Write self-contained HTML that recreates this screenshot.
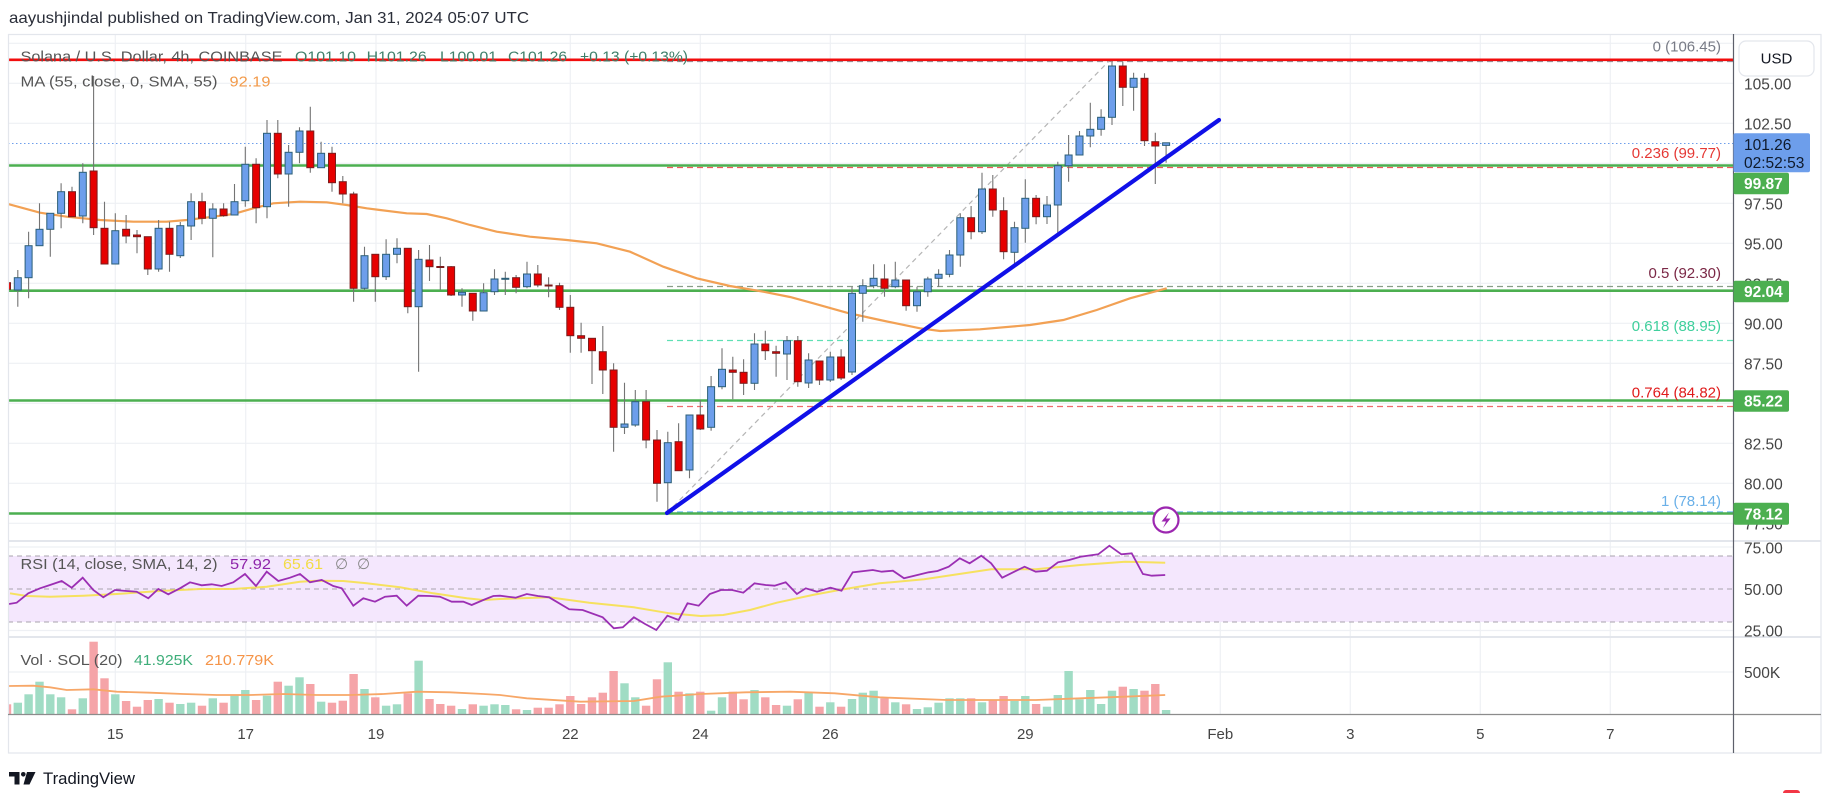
<!DOCTYPE html>
<html><head><meta charset="utf-8"><title>SOLUSD 4h chart</title>
<style>html,body{margin:0;padding:0;background:#fff;}svg{display:block;}text{font-family:"Liberation Sans",sans-serif;}</style>
</head><body>
<svg width="1833" height="793" viewBox="0 0 1833 793" xmlns="http://www.w3.org/2000/svg">
<defs>
<clipPath id="cp"><rect x="8.5" y="34.5" width="1724.5" height="506"/></clipPath>
<clipPath id="cv"><rect x="8.5" y="637" width="1724.5" height="77"/></clipPath>
</defs>
<rect width="1833" height="793" fill="#fff"/>
<text x="9" y="23" font-size="16" fill="#2a2e39" textLength="520" lengthAdjust="spacingAndGlyphs">aayushjindal published on TradingView.com, Jan 31, 2024 05:07 UTC</text>

<!-- gridlines -->
<g stroke="#eef0f4" stroke-width="1.2">
<path d="M115.3 34V714M245.7 34V714M376 34V714M570.3 34V714M700.3 34V714M830.3 34V714M1025.3 34V714M1220.3 34V714M1350.3 34V714M1480.3 34V714M1610.3 34V714"/>
<path d="M8 43.3H1733M8 83.3H1733M8 123.3H1733M8 163.3H1733M8 203.3H1733M8 243.3H1733M8 283.3H1733M8 323.3H1733M8 363.3H1733M8 403.3H1733M8 443.3H1733M8 483.3H1733M8 523.3H1733M8 547H1733M8 630.5H1733M8 672H1733"/>
</g>

<!-- RSI band -->
<rect x="8.5" y="556" width="1724.5" height="66" fill="#f4e7fd"/>
<g stroke="#a8a3ad" stroke-width="1" stroke-dasharray="5 4">
<path d="M8 556H1733M8 589H1733M8 622H1733"/>
</g>

<g clip-path="url(#cp)">
<!-- fib lines -->
<g stroke-width="1.2" stroke-dasharray="6 4" fill="none">
<path d="M667 61.5H1733" stroke="#9598a1"/>
<path d="M667 167.5H1733" stroke="#f05a5a"/>
<path d="M667 286.5H1733" stroke="#8a9e8a"/>
<path d="M667 340.5H1733" stroke="#5fe0b4"/>
<path d="M667 406.5H1733" stroke="#f26b6b"/>
<path d="M667 512H1733" stroke="#64b5f6"/>
<path d="M667 513L1110 60" stroke="#b5b5b5" stroke-dasharray="5 4"/>
</g>
<!-- horizontal lines -->
<path d="M8 59.8H1733" stroke="#f20d0d" stroke-width="2.6"/>
<g stroke="#4caf50" stroke-width="2.6">
<path d="M8 165.5H1733M8 290.7H1733M8 400.5H1733M8 513.5H1733"/>
</g>
<path d="M8 143.5H1733" stroke="#6d9eeb" stroke-width="1" stroke-dasharray="1.5 2.5"/>
<!-- MA -->
<polyline fill="none" stroke="#f2a154" stroke-width="2.2" points="8,204 40,212.7 66.7,216.7 100,220 133.3,221.7 166.7,221.7 186.7,220 213.3,216.7 233.3,214 253.3,208.3 273.3,203.3 300,201.7 326.7,202.3 346.7,205 366.7,208.3 380,210 406.7,213.3 426.7,214 446.7,218.3 470,225 496.7,231.7 530,236.7 566.7,240 596.7,243.3 630,251.7 663.3,266.7 696.7,278.3 730,286 763.3,291.7 790,297 813.3,303.3 846.7,312.7 880,320 920,328.3 940,331 980,329.3 1030,325 1063.3,320 1096.7,310 1130,298.3 1166.7,288.3"/>
<!-- wicks -->
<path stroke="#747474" stroke-width="1.1" fill="none" d="M7 278V292M17.8 270V306.7M28.6 231.7V298.3M39.5 203.3V245.7M50.3 213.3V256.7M61.1 183.3V228.3M72 186.7V216.7M82.8 163.3V223.3M93.6 76V235M104.5 201.7V264M115.3 213.3V264M126.1 215V243.3M137 230V253.3M147.8 236.7V275M158.6 220V271.7M169.5 221.7V271.7M180.3 222V258M191.1 193.3V240M202 192.7V224.3M212.8 203.3V257.3M223.6 203.3V216.7M234.5 184V215M245.3 146.7V206.7M256.1 158.3V223.3M267 120V218.3M277.8 120V178.3M288.6 145V206.7M299.5 127.3V163.3M310.3 106.7V172.7M321.1 141.7V167.7M332 146.7V191.7M342.8 176V203.3M353.6 191.7V301.7M364.5 246.7V290M375.3 254.3V301.7M386.1 239.3V280M397 238.3V263.3M407.8 248.3V313.3M418.6 250V371.7M429.5 245V281M440.3 256.7V290M451.1 266V296M462 288.3V306.7M472.8 293.3V320.7M483.6 283.3V311M494.5 269.3V295M505.3 271.7V295M516.1 275V293.3M527 261.7V288.3M537.8 265V287.3M548.6 277.3V297.3M559.5 282.7V310M570.3 295V352.7M581.1 322.7V352.7M592 338.3V384M602.8 326V394M613.6 363.3V451.7M624.5 382.7V434M635.3 390V426.7M646.1 390V448.3M657 430V501.7M667.8 431.7V513.3M678.6 423.3V470.7M689.5 415V478.3M700.3 400V430M711.1 376V430.7M722 348.3V389.3M732.8 356.7V399.3M743.6 359.3V395M754.5 333.3V390M765.3 330.7V360M776.1 345.7V376.7M787 336V380M797.8 336V386.7M808.6 353.3V388M819.5 361V385M830.3 351.7V382M841.1 349.3V380M852 286.7V375M862.8 279.3V321.7M873.6 264.3V288.3M884.5 264.3V296.7M895.3 261.7V288.3M906.1 280V310.7M917 286.7V311.7M927.8 276.7V296.7M938.6 269.3V286.7M949.5 250V277.3M960.3 213.3V266.7M971.1 206V239.3M982 172.7V234M992.8 175V216.7M1003.6 197.3V259.3M1014.5 221.7V266.7M1025.3 179.3V242.7M1036.1 195V224.3M1047 196V224M1057.8 161.7V234M1068.6 135V181.7M1079.5 131V155M1090.3 102.7V147.3M1101.1 109.3V135.7M1112 61.7V125M1122.8 61.7V106M1133.6 72.7V110.7M1144.5 73.3V146M1155.3 132.7V184M1166.1 142.8V162.8"/>
<!-- blue bodies -->
<g fill="#6d9eeb" stroke="#2c5f78" stroke-width="1">
<rect x="14.3" y="277.7" width="7" height="12.3"/><rect x="25.1" y="245.7" width="7" height="32"/><rect x="36" y="229.3" width="7" height="16.4"/><rect x="46.8" y="213.3" width="7" height="16"/><rect x="57.6" y="191.7" width="7" height="21.6"/><rect x="79.3" y="172.3" width="7" height="43.7"/><rect x="111.8" y="230.7" width="7" height="33.3"/><rect x="155.1" y="228.3" width="7" height="40.7"/><rect x="176.8" y="225.7" width="7" height="30"/><rect x="187.6" y="201.7" width="7" height="24.3"/><rect x="209.3" y="209" width="7" height="9.3"/><rect x="231" y="201.7" width="7" height="13.3"/><rect x="241.8" y="164.3" width="7" height="36.4"/><rect x="263.5" y="133.3" width="7" height="73.4"/><rect x="285.1" y="152.3" width="7" height="21.7"/><rect x="296" y="131" width="7" height="21.3"/><rect x="317.6" y="153.3" width="7" height="14.4"/><rect x="361" y="255.7" width="7" height="32.6"/><rect x="382.6" y="254.3" width="7" height="22.4"/><rect x="393.5" y="248.3" width="7" height="6"/><rect x="415.1" y="259.3" width="7" height="47.4"/><rect x="458.5" y="292.3" width="7" height="2.7"/><rect x="480.1" y="292.7" width="7" height="18.3"/><rect x="491" y="279" width="7" height="12.7"/><rect x="501.8" y="278.3" width="7" height="1"/><rect x="523.5" y="274" width="7" height="12.7"/><rect x="621" y="424" width="7" height="3.3"/><rect x="631.8" y="401.7" width="7" height="23.3"/><rect x="664.3" y="442.7" width="7" height="40"/><rect x="686" y="415" width="7" height="55"/><rect x="707.6" y="386.7" width="7" height="40.6"/><rect x="718.5" y="369.3" width="7" height="17.4"/><rect x="751" y="344" width="7" height="39.3"/><rect x="783.5" y="340.7" width="7" height="13.3"/><rect x="805.1" y="360" width="7" height="23"/><rect x="826.8" y="357" width="7" height="23"/><rect x="848.5" y="293.3" width="7" height="78.7"/><rect x="859.3" y="285.7" width="7" height="7.6"/><rect x="870.1" y="278.3" width="7" height="7.4"/><rect x="891.8" y="280" width="7" height="6.7"/><rect x="913.5" y="291.7" width="7" height="14"/><rect x="924.3" y="279" width="7" height="12.7"/><rect x="935.1" y="274.3" width="7" height="4"/><rect x="946" y="255" width="7" height="19.3"/><rect x="956.8" y="217.7" width="7" height="37.3"/><rect x="978.5" y="189" width="7" height="42.7"/><rect x="1011" y="227.7" width="7" height="24.6"/><rect x="1021.8" y="198.3" width="7" height="30"/><rect x="1043.5" y="205" width="7" height="11.7"/><rect x="1054.3" y="165.7" width="7" height="39.3"/><rect x="1065.1" y="155" width="7" height="10.7"/><rect x="1076" y="136" width="7" height="19"/><rect x="1086.8" y="129.3" width="7" height="6.7"/><rect x="1097.6" y="117.3" width="7" height="12"/><rect x="1108.5" y="66" width="7" height="51.3"/><rect x="1130.1" y="78.3" width="7" height="9"/><rect x="1162.6" y="142.8" width="7" height="2.6"/>
</g>
<!-- red bodies -->
<g fill="#e60000" stroke="#7a1c1c" stroke-width="1">
<rect x="3.5" y="282.7" width="7" height="6.6"/><rect x="68.5" y="191.7" width="7" height="25"/><rect x="90.1" y="171" width="7" height="56.7"/><rect x="101" y="228.3" width="7" height="35.7"/><rect x="122.6" y="229.3" width="7" height="6.7"/><rect x="133.5" y="235" width="7" height="1.7"/><rect x="144.3" y="236.7" width="7" height="32.3"/><rect x="166" y="228.3" width="7" height="26"/><rect x="198.5" y="201.7" width="7" height="16.6"/><rect x="220.1" y="209" width="7" height="6.7"/><rect x="252.6" y="164.3" width="7" height="43.4"/><rect x="274.3" y="133.3" width="7" height="40.7"/><rect x="306.8" y="131" width="7" height="36.7"/><rect x="328.5" y="153.3" width="7" height="29.4"/><rect x="339.3" y="181.7" width="7" height="12.3"/><rect x="350.1" y="194" width="7" height="94.3"/><rect x="371.8" y="254.3" width="7" height="22.4"/><rect x="404.3" y="248.3" width="7" height="58.4"/><rect x="426" y="260" width="7" height="6.7"/><rect x="436.8" y="266.5" width="7" height="1"/><rect x="447.6" y="266.7" width="7" height="28.3"/><rect x="469.3" y="293.3" width="7" height="17.7"/><rect x="512.6" y="277.7" width="7" height="9.6"/><rect x="534.3" y="274" width="7" height="11"/><rect x="545.1" y="285" width="7" height="1"/><rect x="556" y="285.7" width="7" height="21.6"/><rect x="566.8" y="307.3" width="7" height="28.4"/><rect x="577.6" y="335.7" width="7" height="2.6"/><rect x="588.5" y="338.3" width="7" height="12.4"/><rect x="599.3" y="351.7" width="7" height="18.3"/><rect x="610.1" y="370" width="7" height="57.3"/><rect x="642.6" y="401.7" width="7" height="38.3"/><rect x="653.5" y="440" width="7" height="43.3"/><rect x="675.1" y="441.7" width="7" height="29"/><rect x="696.8" y="415" width="7" height="14"/><rect x="729.3" y="370" width="7" height="2.3"/><rect x="740.1" y="372.3" width="7" height="11"/><rect x="761.8" y="344" width="7" height="6.7"/><rect x="772.6" y="351.7" width="7" height="1.6"/><rect x="794.3" y="340.7" width="7" height="41"/><rect x="816" y="361" width="7" height="19"/><rect x="837.6" y="357" width="7" height="21"/><rect x="881" y="279" width="7" height="9.3"/><rect x="902.6" y="280" width="7" height="25.7"/><rect x="967.6" y="217.7" width="7" height="14"/><rect x="989.3" y="189" width="7" height="21"/><rect x="1000.1" y="210.7" width="7" height="41"/><rect x="1032.6" y="198.3" width="7" height="18.4"/><rect x="1119.3" y="66" width="7" height="21.3"/><rect x="1141" y="78.3" width="7" height="62.4"/><rect x="1151.8" y="141.7" width="7" height="4.3"/>
</g>
<!-- trendline -->
<path d="M667 513L1219 120" stroke="#1010e8" stroke-width="4.2" stroke-linecap="round"/>
<!-- icon -->
<circle cx="1166" cy="520" r="12.5" fill="#fff" stroke="#9c27b0" stroke-width="2.2"/>
<path d="M1169 512.5L1161.5 521.5H1166L1163 528L1170.5 518.5H1166Z" fill="#9c27b0"/>
</g>

<!-- fib labels -->
<g font-size="15" text-anchor="end">
<text x="1721" y="51.5" fill="#787b86">0 (106.45)</text>
<text x="1721" y="158" fill="#e53935">0.236 (99.77)</text>
<text x="1721" y="278" fill="#7b2846">0.5 (92.30)</text>
<text x="1721" y="331" fill="#3fcf9c">0.618 (88.95)</text>
<text x="1721" y="397.5" fill="#e01b1b">0.764 (84.82)</text>
<text x="1721" y="506" fill="#6ab0e8">1 (78.14)</text>
</g>

<!-- legends -->
<g font-size="15">
<text x="20.5" y="61.5" fill="#555" textLength="262" lengthAdjust="spacingAndGlyphs">Solana / U.S. Dollar, 4h, COINBASE</text>
<text x="295" y="61.5" fill="#3f7f6a" textLength="61" lengthAdjust="spacingAndGlyphs">O101.10</text>
<text x="366.7" y="61.5" fill="#3f7f6a" textLength="60" lengthAdjust="spacingAndGlyphs">H101.26</text>
<text x="440" y="61.5" fill="#3f7f6a" textLength="57" lengthAdjust="spacingAndGlyphs">L100.01</text>
<text x="508" y="61.5" fill="#3f7f6a" textLength="59" lengthAdjust="spacingAndGlyphs">C101.26</text>
<text x="580" y="61.5" fill="#3f7f6a" textLength="108" lengthAdjust="spacingAndGlyphs">+0.13 (+0.13%)</text>
<text x="20.5" y="86.7" fill="#555" textLength="197" lengthAdjust="spacingAndGlyphs">MA (55, close, 0, SMA, 55)</text>
<text x="229.5" y="86.7" fill="#f29a4a" textLength="41" lengthAdjust="spacingAndGlyphs">92.19</text>
</g>

<!-- RSI lines -->
<polyline fill="none" stroke="#f6e04e" stroke-width="2" stroke-opacity="0.9" points="10,593.3 26.7,596 50,596.7 83.3,595.7 116.7,594 160,591 200,589 233.3,589 266.7,586.7 300,581.7 316.7,580.7 343.3,581 366.7,583.3 400,587.3 433.3,593.3 466.7,598.3 483.3,600 500,599 549.1,597.3 589.3,602.7 633.9,607.3 669.6,613.3 700.9,616 723.2,615 750,610 776.8,602.7 812.5,595 839.3,590 879.5,583.3 924.1,579.3 991.1,569.3 1035.7,569.3 1080.4,565 1125,561.7 1165.2,562.7"/>
<polyline fill="none" stroke="#9b2fb3" stroke-width="1.8" points="9,604 16.7,602.7 28.3,593.3 40,588.3 50,585 61.7,581 71.7,587.7 82.7,577.7 93.3,590 103.3,597.3 115,590 126.7,591 136.7,591.7 148.3,598.3 158.3,589 168.3,594.3 180,588.3 190,582.3 201.7,585.3 211.7,584.3 221.7,586 233.3,582.3 245,574 256,586 266.7,571.7 278.3,581 290,577.7 300,574 310,582.3 321.7,580 333.3,586 341.7,588.3 353.3,605.7 363.3,598.3 375,601.7 385,596.7 396.7,595.7 406.7,605.7 418.3,595.7 430,596 440,596.7 451.7,601.7 463.3,601.7 471.7,605 483.3,600 493.3,596 500,595.7 515.6,597.7 526.8,594 537.9,596 549.1,597.3 569.2,609.3 582.6,610 602.7,617.3 613.8,628.3 622.8,627.3 633.9,617.3 645.1,624 656.3,630 667.4,615.7 678.6,620 687.5,603.3 698.7,605.7 709.8,594 721,590 732.1,590 743.3,592.7 754.5,583.3 765.6,585 774.6,585.7 785.7,582.3 796.9,594 805.8,588.3 817,591.7 830.4,587.7 841.5,590.7 852.7,572.3 872.8,570 881.7,571.7 892.9,570.7 904,578.3 917.4,575 928.6,572.3 937.5,571 948.7,566.7 959.8,558.3 969.6,563.3 981.3,555.7 991.1,563.3 1002.2,577.7 1024.6,566.7 1035.7,571.7 1046.9,570.7 1058,562.3 1069.2,560 1080.4,556.7 1098.2,554.3 1109.4,545.7 1121.4,554.3 1131.7,553.3 1142.9,574 1151.8,575.7 1165.2,575"/>
<g font-size="15">
<text x="20.5" y="569" fill="#555" textLength="197" lengthAdjust="spacingAndGlyphs">RSI (14, close, SMA, 14, 2)</text>
<text x="230" y="569" fill="#8e24aa" textLength="41" lengthAdjust="spacingAndGlyphs">57.92</text>
<text x="283" y="569" fill="#f2dc45" textLength="40" lengthAdjust="spacingAndGlyphs">65.61</text>
<text x="335" y="569" fill="#888">∅</text>
<text x="357" y="569" fill="#888">∅</text>
</g>

<!-- Volume -->
<g clip-path="url(#cv)">
<g fill="#a0dcc4">
<rect x="13.6" y="702.7" width="8.4" height="11.3"/><rect x="24.4" y="694.3" width="8.4" height="19.7"/><rect x="35.3" y="681.7" width="8.4" height="32.3"/><rect x="46.1" y="694.3" width="8.4" height="19.7"/><rect x="56.9" y="697.3" width="8.4" height="16.7"/><rect x="78.6" y="698.3" width="8.4" height="15.7"/><rect x="111.1" y="694.3" width="8.4" height="19.7"/><rect x="154.4" y="699" width="8.4" height="15"/><rect x="176.1" y="704" width="8.4" height="10"/><rect x="186.9" y="702.7" width="8.4" height="11.3"/><rect x="208.6" y="698.3" width="8.4" height="15.7"/><rect x="230.3" y="695.7" width="8.4" height="18.3"/><rect x="241.1" y="690" width="8.4" height="24"/><rect x="262.8" y="695.7" width="8.4" height="18.3"/><rect x="284.4" y="685.7" width="8.4" height="28.3"/><rect x="295.3" y="677.3" width="8.4" height="36.7"/><rect x="316.9" y="701.7" width="8.4" height="12.3"/><rect x="360.3" y="689" width="8.4" height="25"/><rect x="381.9" y="705.7" width="8.4" height="8.3"/><rect x="392.8" y="704.3" width="8.4" height="9.7"/><rect x="414.4" y="660.7" width="8.4" height="53.3"/><rect x="457.8" y="709" width="8.4" height="5"/><rect x="479.4" y="705.7" width="8.4" height="8.3"/><rect x="490.3" y="704.3" width="8.4" height="9.7"/><rect x="501.1" y="705" width="8.4" height="9"/><rect x="522.8" y="710" width="8.4" height="4"/><rect x="620.3" y="683.3" width="8.4" height="30.7"/><rect x="631.1" y="697.3" width="8.4" height="16.7"/><rect x="663.6" y="662.3" width="8.4" height="51.7"/><rect x="685.3" y="693.3" width="8.4" height="20.7"/><rect x="706.9" y="710.7" width="8.4" height="3.3"/><rect x="717.8" y="697.3" width="8.4" height="16.7"/><rect x="750.3" y="690" width="8.4" height="24"/><rect x="782.8" y="705.7" width="8.4" height="8.3"/><rect x="804.4" y="692.3" width="8.4" height="21.7"/><rect x="826.1" y="702.3" width="8.4" height="11.7"/><rect x="847.8" y="699" width="8.4" height="15"/><rect x="858.6" y="692.7" width="8.4" height="21.3"/><rect x="869.4" y="690.7" width="8.4" height="23.3"/><rect x="891.1" y="702.3" width="8.4" height="11.7"/><rect x="912.8" y="709" width="8.4" height="5"/><rect x="923.6" y="707.3" width="8.4" height="6.7"/><rect x="934.4" y="702.7" width="8.4" height="11.3"/><rect x="945.3" y="698.3" width="8.4" height="15.7"/><rect x="956.1" y="698.3" width="8.4" height="15.7"/><rect x="977.8" y="702.3" width="8.4" height="11.7"/><rect x="1010.3" y="701" width="8.4" height="13"/><rect x="1021.1" y="696" width="8.4" height="18"/><rect x="1042.8" y="706.7" width="8.4" height="7.3"/><rect x="1053.6" y="695" width="8.4" height="19"/><rect x="1064.4" y="671" width="8.4" height="43"/><rect x="1075.3" y="699.3" width="8.4" height="14.7"/><rect x="1086.1" y="690" width="8.4" height="24"/><rect x="1096.9" y="704" width="8.4" height="10"/><rect x="1107.8" y="690.7" width="8.4" height="23.3"/><rect x="1129.4" y="689" width="8.4" height="25"/><rect x="1161.9" y="710" width="8.4" height="4"/>
</g>
<g fill="#f5a4a8">
<rect x="2.8" y="704.3" width="8.4" height="9.7"/><rect x="67.8" y="709.3" width="8.4" height="4.7"/><rect x="89.4" y="641.7" width="8.4" height="72.3"/><rect x="100.3" y="678.3" width="8.4" height="35.7"/><rect x="121.9" y="701" width="8.4" height="13"/><rect x="132.8" y="706.7" width="8.4" height="7.3"/><rect x="143.6" y="700" width="8.4" height="14"/><rect x="165.3" y="702.7" width="8.4" height="11.3"/><rect x="197.8" y="705.7" width="8.4" height="8.3"/><rect x="219.4" y="702.7" width="8.4" height="11.3"/><rect x="251.9" y="700" width="8.4" height="14"/><rect x="273.6" y="681.7" width="8.4" height="32.3"/><rect x="306.1" y="684" width="8.4" height="30"/><rect x="327.8" y="702.7" width="8.4" height="11.3"/><rect x="338.6" y="700.7" width="8.4" height="13.3"/><rect x="349.4" y="674" width="8.4" height="40"/><rect x="371.1" y="697.3" width="8.4" height="16.7"/><rect x="403.6" y="693.3" width="8.4" height="20.7"/><rect x="425.3" y="699" width="8.4" height="15"/><rect x="436.1" y="704" width="8.4" height="10"/><rect x="446.9" y="705.7" width="8.4" height="8.3"/><rect x="468.6" y="704.3" width="8.4" height="9.7"/><rect x="511.9" y="709.3" width="8.4" height="4.7"/><rect x="533.6" y="707.7" width="8.4" height="6.3"/><rect x="544.4" y="707.7" width="8.4" height="6.3"/><rect x="555.3" y="704.3" width="8.4" height="9.7"/><rect x="566.1" y="696" width="8.4" height="18"/><rect x="576.9" y="704" width="8.4" height="10"/><rect x="587.8" y="697.3" width="8.4" height="16.7"/><rect x="598.6" y="692.7" width="8.4" height="21.3"/><rect x="609.4" y="671" width="8.4" height="43"/><rect x="641.9" y="705.7" width="8.4" height="8.3"/><rect x="652.8" y="679.3" width="8.4" height="34.7"/><rect x="674.4" y="691.7" width="8.4" height="22.3"/><rect x="696.1" y="691.7" width="8.4" height="22.3"/><rect x="728.6" y="691.7" width="8.4" height="22.3"/><rect x="739.4" y="699.3" width="8.4" height="14.7"/><rect x="761.1" y="697.3" width="8.4" height="16.7"/><rect x="771.9" y="705" width="8.4" height="9"/><rect x="793.6" y="699.3" width="8.4" height="14.7"/><rect x="815.3" y="706.7" width="8.4" height="7.3"/><rect x="836.9" y="706.7" width="8.4" height="7.3"/><rect x="880.3" y="698.3" width="8.4" height="15.7"/><rect x="901.9" y="704.3" width="8.4" height="9.7"/><rect x="966.9" y="698.3" width="8.4" height="15.7"/><rect x="988.6" y="700" width="8.4" height="14"/><rect x="999.4" y="696" width="8.4" height="18"/><rect x="1031.9" y="704" width="8.4" height="10"/><rect x="1118.6" y="686.7" width="8.4" height="27.3"/><rect x="1140.3" y="690.7" width="8.4" height="23.3"/><rect x="1151.1" y="684" width="8.4" height="30"/>
</g>
<polyline fill="none" stroke="#f7a768" stroke-width="1.8" points="9,686 33,685.7 50,687.3 66.7,690 93.3,689.3 116.7,691.7 150,692.7 183.3,694 216.7,695 250,695 283.3,694 316.7,695 350,695 383.3,694 416.7,691.7 450,692.3 483.3,694 500,695 526.8,698.3 580.4,701.7 633.9,701 660.7,696.7 700.9,694 745.5,692.3 790.2,691.7 834.8,693.3 879.5,697.3 946.4,700 991.1,700 1035.7,700 1080.4,698.3 1125,696.7 1165.2,695"/>
</g>
<g font-size="15">
<text x="20.5" y="665" fill="#555" textLength="102" lengthAdjust="spacingAndGlyphs">Vol · SOL (20)</text>
<text x="134" y="665" fill="#3fae7a" textLength="59" lengthAdjust="spacingAndGlyphs">41.925K</text>
<text x="205" y="665" fill="#f59448" textLength="69" lengthAdjust="spacingAndGlyphs">210.779K</text>
</g>

<!-- frame -->
<rect x="8.5" y="34.5" width="1812.5" height="718.5" fill="none" stroke="#e3e6ec" stroke-width="1.2"/>
<path d="M8 541H1821M8 637H1821" stroke="#e3e6ec" stroke-width="2"/>
<path d="M8 714.5H1821" stroke="#8c8c8c" stroke-width="1.2"/>
<path d="M1733.5 34V753" stroke="#5d606b" stroke-width="1.2"/>

<!-- price axis labels -->
<g font-size="15.5" fill="#444">
<text x="1744" y="89.5">105.00</text>
<text x="1744" y="129.5">102.50</text>
<text x="1744" y="209.5">97.50</text>
<text x="1744" y="249.5">95.00</text>
<text x="1744" y="289.5">92.50</text>
<text x="1744" y="329.5">90.00</text>
<text x="1744" y="369.5">87.50</text>
<text x="1744" y="449.5">82.50</text>
<text x="1744" y="489.5">80.00</text>
<text x="1744" y="529.5">77.50</text>
<text x="1744" y="553.5">75.00</text>
<text x="1744" y="595">50.00</text>
<text x="1744" y="636.5">25.00</text>
<text x="1744" y="678">500K</text>
</g>
<!-- USD box -->
<rect x="1739" y="41" width="75" height="35" rx="7" fill="#fff" stroke="#e3e6ec" stroke-width="1.2"/>
<text x="1776.5" y="63.5" font-size="15" fill="#131722" text-anchor="middle">USD</text>
<!-- current price box -->
<rect x="1733.5" y="133.3" width="76.5" height="39" rx="2" fill="#6d9eeb"/>
<text x="1744" y="150" font-size="15.5" fill="#0f1a2b">101.26</text>
<text x="1744" y="168" font-size="15.5" fill="#0f1a2b">02:52:53</text>
<!-- green label boxes -->
<g fill="#4caf50">
<rect x="1733.5" y="172.7" width="55.5" height="21.5" rx="2"/>
<rect x="1733.5" y="280.7" width="55.5" height="21.5" rx="2"/>
<rect x="1733.5" y="390.2" width="55.5" height="21.5" rx="2"/>
<rect x="1733.5" y="502.7" width="55.5" height="22" rx="2"/>
</g>
<g font-size="15.5" fill="#fff" font-weight="bold">
<text x="1744" y="189">99.87</text>
<text x="1744" y="297">92.04</text>
<text x="1744" y="406.5">85.22</text>
<text x="1744" y="519.5">78.12</text>
</g>

<!-- time axis -->
<g font-size="15" fill="#444" text-anchor="middle">
<text x="115.3" y="739">15</text>
<text x="245.7" y="739">17</text>
<text x="376" y="739">19</text>
<text x="570.3" y="739">22</text>
<text x="700.3" y="739">24</text>
<text x="830.3" y="739">26</text>
<text x="1025.3" y="739">29</text>
<text x="1220.3" y="739">Feb</text>
<text x="1350.3" y="739">3</text>
<text x="1480.3" y="739">5</text>
<text x="1610.3" y="739">7</text>
</g>

<!-- TradingView logo -->
<g fill="#131722">
<rect x="9" y="772" width="10.5" height="4.5"/>
<rect x="14.5" y="772" width="5" height="12.5"/>
<circle cx="23.3" cy="774.3" r="2.3"/>
<path d="M27 772H35.5L29.5 784.5H23.5Z"/>
</g>
<text x="43" y="784" font-size="17" fill="#131722" textLength="92" lengthAdjust="spacingAndGlyphs">TradingView</text>
<rect x="1783" y="790" width="17" height="6" rx="3" fill="#f23645"/>
</svg>
</body></html>
